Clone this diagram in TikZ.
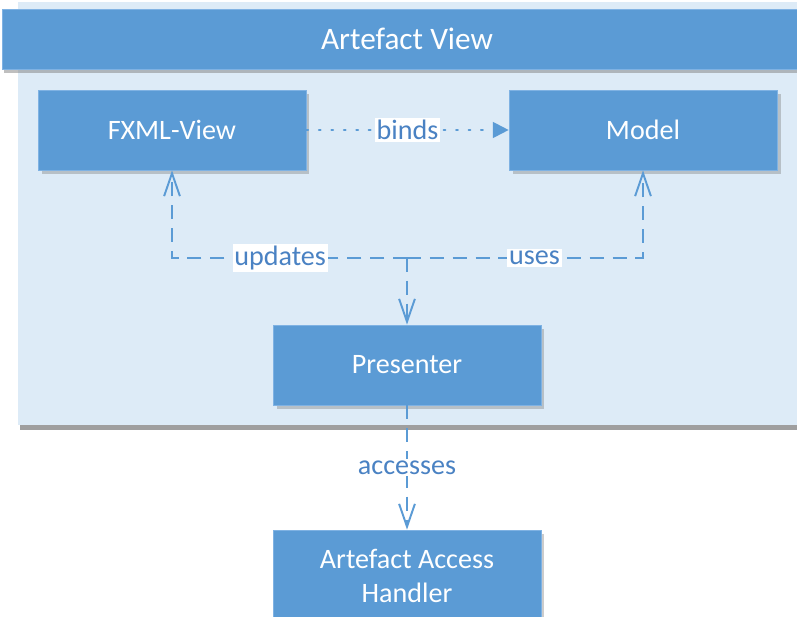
\documentclass[tikz,border=0pt]{standalone}
\usepackage{fontspec}
\setmainfont{Carlito}
\usetikzlibrary{arrows.meta,shadows}
\definecolor{boxblue}{HTML}{5B9BD5}
\definecolor{boxedge}{HTML}{7FB2E3}
\definecolor{panelblue}{HTML}{DDEBF7}
\definecolor{textblue}{HTML}{4A82C3}
\tikzset{
  panel/.style={fill=panelblue, draw=none, drop shadow={shadow xshift=1.5pt, shadow yshift=-3pt, opacity=0.75}},
  titlebar/.style={fill=boxblue, draw=boxedge, text=white, font=\fontsize{17}{20}\selectfont,
    drop shadow={shadow xshift=1pt, shadow yshift=-2.5pt, opacity=0.5}},
  block/.style={fill=boxblue, draw=boxedge, text=white, align=center,
    minimum width=5.36cm, minimum height=1.6cm, font=\fontsize{16}{19}\selectfont,
    drop shadow={shadow xshift=2pt, shadow yshift=-2pt, opacity=0.4}},
  dep/.style={draw=boxblue, line width=1.2pt, dash pattern=on 8pt off 5pt,
    -{Straight Barb[length=13pt,width=9pt,line width=1.1pt]}},
  bindline/.style={draw=boxblue, line width=1.1pt, dash pattern=on 1.1pt off 6pt, line cap=round,
    -{Triangle[length=9pt,width=9pt]}},
  lbl/.style={fill=white, text=textblue, inner sep=1pt, font=\fontsize{16}{19}\selectfont}
}
\begin{document}
\begin{tikzpicture}[x=0.02cm, y=-0.02cm]
  \clip (0,0) rectangle (797,617);
  \fill[white] (0,0) rectangle (797,617);
  % container and title
  \node[panel, minimum width=15.9cm, minimum height=8.46cm] (view) at (415,213.5) {};
  \node[titlebar, minimum width=16.2cm, minimum height=1.2cm] (title) at (407,39) {};
  \node[text=white, font=\fontsize{17.8}{21}\selectfont] (titletext) at (407,39) {Artefact View};
  % blocks
  \node[block] (fxml) at (172,130) {FXML-View};
  \node[block] (model) at (643,130) {Model};
  \node[block] (presenter) at (407,365) {Presenter};
  \node[block, minimum height=1.84cm] (aah) at (407,576) {Artefact Access\\Handler};
  % connectors
  \coordinate (junc) at (407,258);
  \draw[bindline] (fxml) -- node[lbl] {binds} (model);
  \draw[dep] (junc) -| node[lbl, pos=0.27] {updates} (fxml.south);
  \draw[dep] (junc) -| node[lbl, pos=0.27] {uses} (model.south);
  \draw[dep] (junc) -- (presenter.north);
  \draw[dep] (presenter) -- node[lbl] {accesses} (aah);
\end{tikzpicture}
\end{document}
